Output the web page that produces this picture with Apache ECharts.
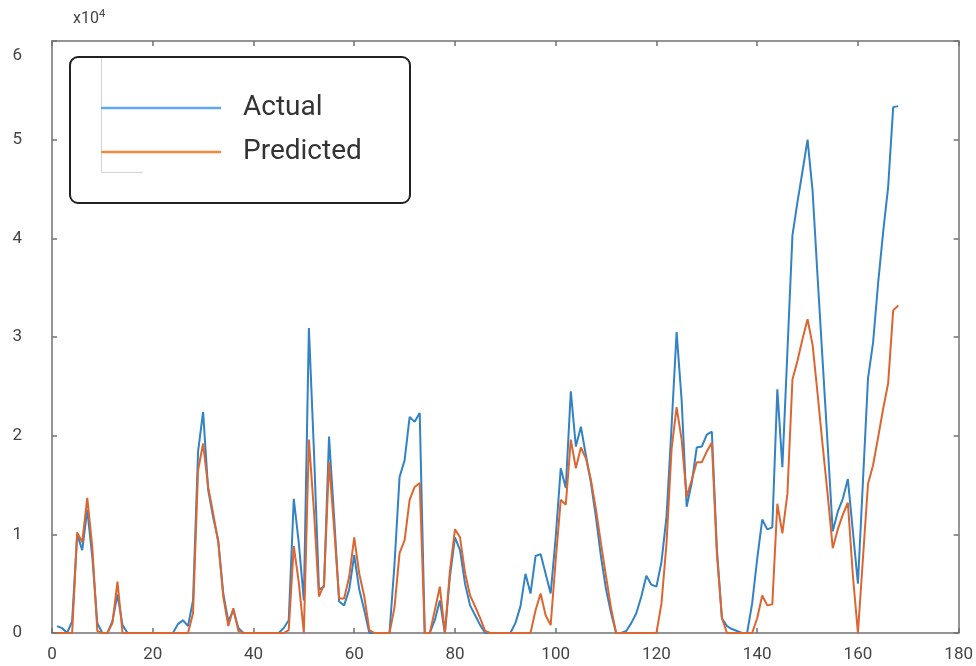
<!DOCTYPE html>
<html>
<head>
<meta charset="utf-8">
<title>Actual vs Predicted</title>
<script src="https://cdn.jsdelivr.net/npm/echarts@6/dist/echarts.min.js"></script>
<style>
  html, body { margin: 0; padding: 0; background: #ffffff; }
  #chart { width: 976px; height: 666px; }
</style>
</head>
<body>
<div id="chart"></div>
<script>
// Values are in units of 10^4 (see the "x10^4" axis multiplier); sample index runs 1..168.
const actual = [
  0.07, 0.05, 0, 0.12, 1.0, 0.84, 1.25, 0.77, 0.1, 0,
  0, 0.12, 0.39, 0.08, 0, 0, 0, 0, 0, 0,
  0, 0, 0, 0, 0.09, 0.13, 0.07, 0.33, 1.84, 2.24,
  1.45, 1.17, 0.94, 0.4, 0.12, 0.23, 0.05, 0, 0, 0,
  0, 0, 0, 0, 0, 0.05, 0.13, 1.36, 0.91, 0.33,
  3.09, 1.85, 0.44, 0.47, 1.99, 1.18, 0.32, 0.28, 0.44, 0.79,
  0.44, 0.23, 0, 0, 0, 0, 0, 0.7, 1.58, 1.75,
  2.19, 2.14, 2.23, 0, 0, 0.13, 0.33, 0, 0.57, 0.97,
  0.84, 0.5, 0.28, 0.18, 0.08, 0, 0, 0, 0, 0,
  0, 0.1, 0.27, 0.6, 0.4, 0.78, 0.8, 0.6, 0.4, 0.97,
  1.67, 1.47, 2.45, 1.89, 2.09, 1.8, 1.52, 1.17, 0.77, 0.44,
  0.2, 0, 0, 0.02, 0.1, 0.2, 0.37, 0.58, 0.49, 0.47,
  0.72, 1.18, 2.09, 3.05, 2.36, 1.28, 1.52, 1.88, 1.89, 2.01,
  2.04, 0.85, 0.15, 0.07, 0.04, 0.02, 0, 0, 0.3, 0.75,
  1.15, 1.05, 1.07, 2.47, 1.68, 2.85, 4.03, 4.37, 4.68, 5.0,
  4.48, 3.6, 2.75, 1.9, 1.03, 1.23, 1.36, 1.56, 1.03, 0.5,
  1.54, 2.58, 2.94, 3.54, 4.06, 4.52, 5.33, 5.34
];

const predicted = [
  0, 0, 0, 0, 1.02, 0.92, 1.37, 0.87, 0.02, 0,
  0, 0.1, 0.52, 0, 0, 0, 0, 0, 0, 0,
  0, 0, 0, 0, 0, 0, 0, 0.2, 1.65, 1.92,
  1.48, 1.21, 0.92, 0.37, 0.07, 0.25, 0.02, 0, 0, 0,
  0, 0, 0, 0, 0, 0, 0.03, 0.88, 0.51, 0,
  1.96, 1.24, 0.37, 0.49, 1.73, 1.07, 0.35, 0.35, 0.57, 0.97,
  0.6, 0.37, 0.03, 0, 0, 0, 0, 0.26, 0.81, 0.94,
  1.35, 1.48, 1.52, 0, 0, 0.23, 0.47, 0, 0.63, 1.05,
  0.97, 0.61, 0.38, 0.27, 0.15, 0.02, 0, 0, 0, 0,
  0, 0, 0, 0, 0, 0.23, 0.4, 0.18, 0.08, 0.74,
  1.35, 1.3, 1.96, 1.67, 1.88, 1.77, 1.55, 1.25, 0.9, 0.57,
  0.25, 0, 0, 0, 0, 0, 0, 0, 0, 0,
  0.3, 0.91, 1.86, 2.29, 1.96, 1.38, 1.55, 1.73, 1.73, 1.84,
  1.93, 0.8, 0.15, 0, 0, 0, 0, 0, 0, 0.15,
  0.38, 0.28, 0.29, 1.31, 1.01, 1.41, 2.57, 2.76, 2.98, 3.18,
  2.92, 2.42, 1.9, 1.4, 0.86, 1.05, 1.2, 1.32, 0.58, 0,
  0.76, 1.51, 1.7, 1.98, 2.27, 2.53, 3.27, 3.32
];

const seriesNames = ['Actual', 'Predicted'];
const xTicks = { min: 0, max: 180, step: 20 };
const yTicks = { min: 0, max: 6, step: 1 };

const toPoints = arr => arr.map((v, i) => [i + 1, v]);

const axisGrey = '#727272';
const labelGrey = '#444444';
const fontFamily = 'Roboto, "Liberation Sans", Arial, sans-serif';

// Shared look of the four box edges: grey line, short inward ticks, no grid lines.
const boxAxisCommon = {
  axisLine: { show: true, onZero: false, lineStyle: { color: axisGrey, width: 1.5 } },
  axisTick: { show: true, inside: true, length: 5, lineStyle: { color: axisGrey, width: 1.5 } },
  splitLine: { show: false }
};

const chart = echarts.init(document.getElementById('chart'), null, { renderer: 'canvas' });

chart.setOption({
  backgroundColor: '#ffffff',
  animation: false,
  grid: { left: 52, right: 15, top: 41, bottom: 33 },
  xAxis: [
    Object.assign({
      type: 'value', position: 'bottom',
      min: xTicks.min, max: xTicks.max, interval: xTicks.step,
      axisLabel: { color: labelGrey, fontSize: 17, fontFamily: fontFamily, margin: 13 }
    }, boxAxisCommon),
    Object.assign({
      type: 'value', position: 'top',
      min: xTicks.min, max: xTicks.max, interval: xTicks.step,
      axisLabel: { show: false }
    }, boxAxisCommon)
  ],
  yAxis: [
    Object.assign({
      type: 'value', position: 'left',
      min: yTicks.min, max: yTicks.max, interval: yTicks.step,
      axisLabel: {
        color: labelGrey, fontSize: 17, fontFamily: fontFamily, margin: 30,
        formatter: v => v === yTicks.max ? '{top|' + v + '}' : String(v),
        rich: { top: { color: labelGrey, fontSize: 17, fontFamily: fontFamily, padding: [30, 0, 0, 0] } }
      }
    }, boxAxisCommon),
    Object.assign({
      type: 'value', position: 'right',
      min: yTicks.min, max: yTicks.max, interval: yTicks.step,
      axisLabel: { show: false }
    }, boxAxisCommon)
  ],
  legend: {
    orient: 'vertical',
    left: 101,
    top: 92,
    padding: 0,
    itemGap: 12,
    itemWidth: 120,
    itemHeight: 2.5,
    icon: 'rect',
    z: 10,
    textStyle: {
      fontSize: 28, fontFamily: fontFamily, color: '#333333',
      lineHeight: 32, padding: [0, 0, 0, 17]
    },
    data: [
      { name: seriesNames[0], itemStyle: { color: '#5fa9f0' } },
      { name: seriesNames[1], itemStyle: { color: '#f08a3c' } }
    ]
  },
  graphic: [
    {
      type: 'text', left: 73, top: 9, z: 10,
      style: {
        text: '{b|x10}{s|4}',
        rich: {
          b: { fontSize: 16, fontFamily: fontFamily, fill: labelGrey },
          s: { fontSize: 11, fontFamily: fontFamily, fill: labelGrey, verticalAlign: 'top', padding: [0, 0, 9, 0] }
        }
      }
    },
    {
      type: 'rect', z: 8,
      shape: { x: 70, y: 57, width: 340, height: 146, r: 8 },
      style: { fill: '#ffffff', stroke: '#222222', lineWidth: 2 }
    },
    {
      type: 'polyline', z: 9,
      shape: { points: [[101.5, 58], [101.5, 172.5], [143, 172.5]] },
      style: { stroke: '#d4d4d4', lineWidth: 1, fill: null }
    }
  ],
  series: [
    {
      name: seriesNames[0], type: 'line',
      data: toPoints(actual),
      showSymbol: false, symbol: 'none',
      lineStyle: { color: '#3282c4', width: 2 },
      itemStyle: { color: '#3282c4' },
      z: 2
    },
    {
      name: seriesNames[1], type: 'line',
      data: toPoints(predicted),
      showSymbol: false, symbol: 'none',
      lineStyle: { color: '#dc6632', width: 2 },
      itemStyle: { color: '#dc6632' },
      z: 3
    }
  ]
});
</script>
</body>
</html>
